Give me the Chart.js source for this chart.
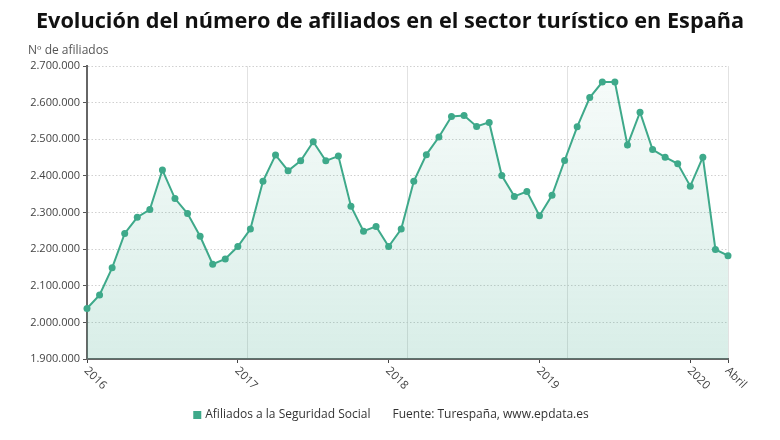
<!DOCTYPE html>
<html>
<head>
<meta charset="utf-8">
<script src="https://cdn.jsdelivr.net/npm/chart.js@4/dist/chart.umd.min.js"></script>
<style>
  html, body { margin: 0; padding: 0; background: #fff; }
  #wrap { width: 780px; height: 440px; }
</style>
</head>
<body>
<div id="wrap"><canvas id="chart" width="780" height="440"></canvas></div>
<script>
// Afiliados a la Seguridad Social en el sector turístico, ene 2016 - abr 2020
const afiliados2016 = [2038000, 2075000, 2149000, 2243000, 2287000, 2308000, 2416000, 2338000, 2297000, 2235000, 2159000, 2173000];
const afiliados2017 = [2207000, 2255000, 2385000, 2457000, 2414000, 2441000, 2493000, 2441000, 2454000, 2317000, 2249000, 2262000];
const afiliados2018 = [2207000, 2255000, 2385000, 2458000, 2506000, 2562000, 2565000, 2535000, 2546000, 2401000, 2344000, 2357000];
const afiliados2019 = [2291000, 2347000, 2442000, 2534000, 2614000, 2656000, 2656000, 2484000, 2574000, 2472000, 2451000, 2433000];
const afiliados2020 = [2372000, 2451000, 2199000, 2182000];

const years = ['2016', '2017', '2018', '2019', '2020'];
const lastLabel = 'Abril';

const yTicks = [1900000, 2000000, 2100000, 2200000, 2300000, 2400000, 2500000, 2600000, 2700000];

const seriesName = 'Afiliados a la Seguridad Social';
const sourceText = 'Fuente: Turespaña, www.epdata.es';
const yTitle = 'Nº de afiliados';
const chartTitle = 'Evolución del número de afiliados en el sector turístico en España';

const values = [...afiliados2016, ...afiliados2017, ...afiliados2018, ...afiliados2019, ...afiliados2020];

// one label per month, only January shows the year, last point shows "Abril"
const labels = values.map((v, i) => (i % 12 === 0 ? years[i / 12] : ''));
labels[labels.length - 1] = lastLabel;

const TEAL = '#3ea98a';
const FONT = '"Open Sans", "DejaVu Sans", sans-serif';

function formatThousands(n) {
    return String(n).replace(/\B(?=(\d{3})+(?!\d))/g, '.');
}

// title, rotated x labels, y axis caption and footer
const extrasPlugin = {
    id: 'extras',
    afterDraw(chart) {
        const ctx = chart.ctx;
        const x = chart.scales.x;
        const area = chart.chartArea;

        ctx.save();
        // title, centred on the whole canvas
        ctx.fillStyle = '#111';
        ctx.font = 'bold 21.7px ' + FONT;
        ctx.textAlign = 'center';
        ctx.textBaseline = 'middle';
        ctx.fillText(chartTitle, 390, 22);

        ctx.fillStyle = '#444';
        ctx.font = '11.5px ' + FONT;
        ctx.textAlign = 'left';
        labels.forEach((lab, i) => {
            if (!lab) return;
            const px = x.getPixelForValue(i);
            ctx.save();
            ctx.translate(px - 1, area.bottom + 10);
            ctx.rotate(Math.PI / 4);
            ctx.fillText(lab, 0, 0);
            ctx.restore();
        });

        // y caption
        ctx.fillStyle = '#555';
        ctx.font = '12px ' + FONT;
        ctx.textBaseline = 'alphabetic';
        ctx.fillText(yTitle, 28, 54);

        // footer: legend + source
        ctx.font = '12px ' + FONT;
        const box = 8, gap1 = 4, gap2 = 22;
        const w1 = ctx.measureText(seriesName).width;
        const w2 = ctx.measureText(sourceText).width;
        const total = box + gap1 + w1 + gap2 + w2;
        let fx = 391 - total / 2;
        const fy = 415;
        ctx.fillStyle = TEAL;
        ctx.fillRect(fx, fy - box / 2, box, box);
        fx += box + gap1;
        ctx.fillStyle = '#333';
        ctx.textBaseline = 'middle';
        ctx.fillText(seriesName, fx, fy);
        fx += w1 + gap2;
        ctx.fillText(sourceText, fx, fy);
        ctx.restore();
    }
};

new Chart(document.getElementById('chart'), {
    type: 'line',
    data: {
        labels: labels,
        datasets: [{
            label: seriesName,
            data: values,
            borderColor: TEAL,
            borderWidth: 2,
            pointRadius: 3.5,
            pointBackgroundColor: TEAL,
            pointBorderColor: TEAL,
            pointBorderWidth: 0,
            tension: 0,
            fill: 'start',
            backgroundColor: function(context) {
                const area = context.chart.chartArea;
                if (!area) return 'rgba(62,169,138,0.15)';
                const g = context.chart.ctx.createLinearGradient(0, area.top, 0, area.bottom);
                g.addColorStop(0, 'rgba(62,169,138,0.04)');
                g.addColorStop(1, 'rgba(62,169,138,0.2)');
                return g;
            }
        }]
    },
    options: {
        responsive: false,
        animation: false,
        layout: { padding: { left: 0, right: 52, top: 66, bottom: 0 } },
        plugins: {
            legend: { display: false },
            tooltip: { enabled: false },
            title: { display: false }
        },
        scales: {
            x: {
                type: 'category',
                position: 'bottom',
                offset: false,
                ticks: { display: false, autoSkip: false },
                grid: {
                    drawOnChartArea: false,
                    drawTicks: true,
                    tickLength: 4,
                    tickWidth: 1,
                    tickColor: ctx => (labels[ctx.index] ? '#444' : 'rgba(0,0,0,0)')
                },
                border: { display: true, color: '#666', width: 2 },
                afterFit: s => { s.height = 81; }
            },
            xg: {
                type: 'linear',
                position: 'top',
                min: 0,
                max: 4,
                ticks: { display: false, stepSize: 1 },
                grid: { color: '#e2e2e2', drawTicks: false, lineWidth: 1 },
                border: { display: false },
                afterFit: s => { s.height = 0; }
            },
            y: {
                min: yTicks[0],
                max: yTicks[yTicks.length - 1],
                afterBuildTicks: s => { s.ticks = yTicks.map(v => ({ value: v })); },
                ticks: {
                    color: '#444',
                    font: { family: FONT, size: 11 },
                    padding: 3,
                    callback: v => formatThousands(v)
                },
                grid: {
                    color: '#d0d0d0',
                    lineWidth: 1,
                    drawTicks: true,
                    tickLength: 4,
                    tickColor: '#555'
                },
                border: { display: true, color: '#666', width: 2, dash: [1.5, 2] },
                afterFit: s => { s.width = 87; }
            }
        }
    },
    plugins: [extrasPlugin]
});
</script>
</body>
</html>
